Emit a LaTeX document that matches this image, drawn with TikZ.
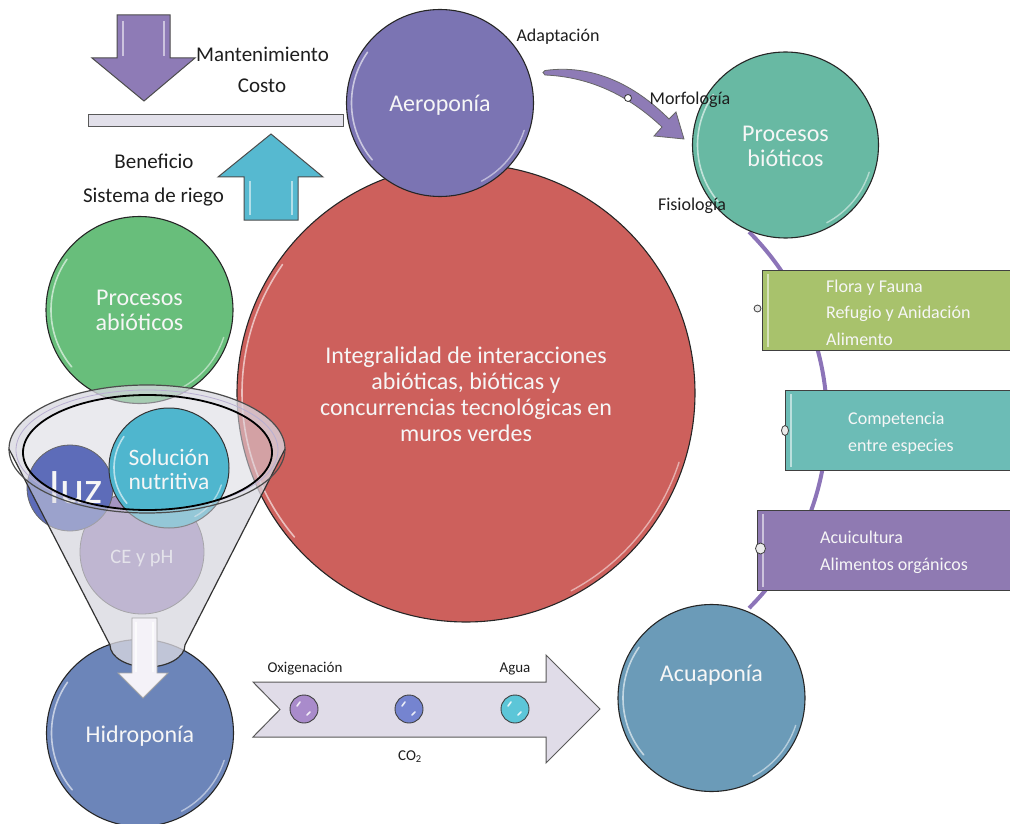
\documentclass[tikz,border=0pt]{standalone}
\usepackage{fontspec}
\setmainfont{Carlito}
\usetikzlibrary{shapes.geometric}

\definecolor{aeroC}{HTML}{7B74B3}
\definecolor{redC}{HTML}{CD605C}
\definecolor{bioC}{HTML}{68B9A3}
\definecolor{abioC}{HTML}{68BE7B}
\definecolor{hidroC}{HTML}{6C85B9}
\definecolor{acuaC}{HTML}{6B9BB8}
\definecolor{luzC}{HTML}{5D6CB9}
\definecolor{soluC}{HTML}{4FB6CE}
\definecolor{cephC}{HTML}{A594C2}
\definecolor{arrowPurple}{HTML}{8E7BB6}
\definecolor{arrowCyan}{HTML}{56B9D0}
\definecolor{barC}{HTML}{E2E0EA}
\definecolor{boxGreen}{HTML}{A8C26C}
\definecolor{boxTeal}{HTML}{6CBCB6}
\definecolor{boxPurple}{HTML}{8F7AB2}
\definecolor{lineViolet}{HTML}{8C74B8}
\definecolor{flowC}{HTML}{E0DCE8}
\definecolor{funnelC}{HTML}{D9D8E0}
\definecolor{rimC}{HTML}{B9AFD2}
\definecolor{inkC}{HTML}{1E1E1E}
\definecolor{softWhite}{HTML}{F6F6F6}
\definecolor{beadPurple}{HTML}{A98BCB}
\definecolor{beadBlue}{HTML}{7584D0}
\definecolor{beadCyan}{HTML}{5CC6D8}

\newcommand\fs[2]{\fontsize{#1}{#2}\selectfont}
% glossy rim highlights inside a disc: node name, radius
\newcommand\glossrim[2]{%
  \draw[white, opacity=.6, line width=1.6pt, line cap=round]
    (#1) ++(140:{#2-5}) arc[start angle=140, end angle=215, radius={#2-5}];
  \draw[white, opacity=.5, line width=1.4pt, line cap=round]
    (#1) ++(18:{#2-5}) arc[start angle=18, end angle=62, radius={#2-5}];}

\begin{document}
\begin{tikzpicture}[x=1pt, y=-1pt,
  disc/.style={circle, draw=black!85, line width=1.1pt, minimum size=#1, inner sep=0pt, outer sep=0pt},
  inlbl/.style={text=softWhite, anchor=base, inner sep=0pt, font=\fs{24}{26}},
  blk/.style={text=inkC, anchor=base, inner sep=0pt},
  panel/.style={rectangle, draw=black!75, line width=1pt, anchor=north west, inner sep=0pt, minimum width=253pt, minimum height=80pt},
  boxtxt/.style={text=softWhite, anchor=base west, inner sep=0pt, font=\fs{18}{22}},
  flowlbl/.style={text=inkC, anchor=base, inner sep=0pt, font=\fs{15}{18}},
  pin/.style={circle, draw=black!75, fill=white!92!black, line width=.8pt, inner sep=0pt, minimum size=7pt},
  bead/.style={circle, draw=black!75, line width=.9pt, fill=#1, minimum size=28pt, inner sep=0pt},
  bevel/.style={white, opacity=.55, line width=1.5pt},
]
\useasboundingbox (0,0) rectangle (1010,824);
\clip (0,0) rectangle (1010,824);

% ---------- balance: cost versus benefit ----------
\node[draw=black!65, line width=1pt, fill=barC, minimum width=255pt, minimum height=12pt, inner sep=0pt] (bar) at (215.5,121) {};
\path[fill=arrowPurple, draw=black!70, line width=1pt]
  (117,15) -- (170,15) -- (170,58) -- (195,58) -- (144,101) -- (92,58) -- (117,58) -- cycle;
\draw[bevel] (123,21) -- (123,56) (164,21) -- (164,56);
\path[fill=arrowCyan, draw=black!70, line width=1pt]
  (271,134) -- (323,177) -- (298,177) -- (298,220) -- (244,220) -- (244,177) -- (218,177) -- cycle;
\draw[bevel] (250,181) -- (250,215) (292,181) -- (292,215);
\node[blk, font=\fs{21}{24}] (mant) at (262.5,62) {Mantenimiento};
\node[blk, font=\fs{21}{24}] (costo) at (262,93) {Costo};
\node[blk, font=\fs{21}{24}] (benef) at (154,169) {Beneficio};
\node[blk, font=\fs{21}{24}] (riego) at (153.5,203) {Sistema de riego};

% ---------- central disc ----------
\node[disc=458pt, fill=redC] (core) at (466,393) {};
\glossrim{core}{229}
\node[inlbl] (core1) at (466,363) {Integralidad de interacciones};
\node[inlbl] (core2) at (466,389) {abióticas, bióticas y};
\node[inlbl] (core3) at (466,415) {concurrencias tecnológicas en};
\node[inlbl] (core4) at (466,441) {muros verdes};

% ---------- aeroponics ----------
\node[disc=187pt, fill=aeroC] (aero) at (440,103) {};
\glossrim{aero}{93.5}
\node[inlbl] (aeroT) at (440,112) {Aeroponía};

% ---------- abiotic processes ----------
\node[disc=187pt, fill=abioC] (abio) at (139.5,310) {};
\glossrim{abio}{93.5}
\node[inlbl] (abio1) at (139.5,305) {Procesos};
\node[inlbl] (abio2) at (139.5,330) {abióticos};

% ---------- curved arrow towards biotic processes ----------
\path[fill=arrowPurple, draw=black!60, line width=.8pt]
  (545,70.5) .. controls (592,64) and (634,84) .. (669,119)
  -- (676,112) -- (684,139) -- (654,136) -- (662,127)
  .. controls (628,95) and (590,77) .. (545,75) -- (543,72.5) -- cycle;
\node[circle, draw=black!80, fill=white, line width=.8pt, inner sep=0pt, minimum size=7pt] (knot) at (628,98) {};

% ---------- biotic chain ----------
\draw[lineViolet, line width=4pt] (561,420) ++(-45:266) arc[start angle=-45, end angle=45, radius=266];
\node[disc=186pt, fill=bioC] (bio) at (785.5,145) {};
\glossrim{bio}{93}
\node[inlbl] (bio1) at (785.5,142) {Procesos};
\node[inlbl] (bio2) at (785.5,167) {bióticos};

\node[disc=187pt, fill=acuaC] (acua) at (711.5,698) {};
\glossrim{acua}{93.5}
\node[inlbl] (acuaT) at (711.5,681) {Acuaponía};

\node[panel, fill=boxGreen] (flora) at (762,270) {};
\draw[bevel] ([xshift=6pt,yshift=-4pt]flora.north west) -- ([xshift=6pt,yshift=4pt]flora.south west);
\node[boxtxt] (flora1) at (826,292) {Flora y Fauna};
\node[boxtxt] (flora2) at (826,318) {Refugio y Anidación};
\node[boxtxt] (flora3) at (826,345) {Alimento};
\node[pin] (floraPin) at ([xshift=-4.5pt,yshift=2pt]flora.west) {};

\node[panel, fill=boxTeal] (comp) at (785,390) {};
\draw[bevel] ([xshift=6pt,yshift=-4pt]comp.north west) -- ([xshift=6pt,yshift=4pt]comp.south west);
\node[boxtxt] (comp1) at (848,424) {Competencia};
\node[boxtxt] (comp2) at (848,451) {entre especies};
\node[pin, ellipse, minimum width=7pt, minimum height=10pt] (compPin) at (comp.west) {};

\node[panel, fill=boxPurple] (acui) at (757,510) {};
\draw[bevel] ([xshift=6pt,yshift=-4pt]acui.north west) -- ([xshift=6pt,yshift=4pt]acui.south west);
\node[boxtxt] (acui1) at (820,543) {Acuicultura};
\node[boxtxt] (acui2) at (820,570) {Alimentos orgánicos};
\node[pin, ellipse, minimum width=10pt, minimum height=11pt] (acuiPin) at ([xshift=3.5pt,yshift=2pt]acui.west) {};

% ---------- hydroponics ----------
\node[disc=187pt, fill=hidroC] (hidro) at (140,733) {};
\glossrim{hidro}{93.5}
\node[inlbl] (hidroT) at (140,742) {Hidroponía};

% ---------- funnel with its contents ----------
% back wall of the funnel
\path[fill=funnelC, fill opacity=.55]
  (9,449) -- (110,645) arc[start angle=180, end angle=0, x radius=37.5, y radius=22]
  -- (285,449) arc[start angle=0, end angle=-180, x radius=138, y radius=64] -- cycle;
% discs poured into the funnel
\node[disc=124pt, fill=cephC, draw=black!55, line width=.8pt] (ceph) at (142,552) {};
\node[text=white!85!cephC, anchor=base, inner sep=0pt, font=\fs{20.5}{24}] (cephT) at (142,563) {CE y pH};
\node[disc=86pt, fill=luzC, draw=black!60, line width=.8pt] (luz) at (70,488) {};
\node[text=softWhite, anchor=base, inner sep=0pt, font=\fs{46}{50}] (luzT) at (76,503) {luz};
\node[disc=120pt, fill=soluC, draw=black!80, line width=1pt] (solu) at (169,468) {};
\glossrim{solu}{60}
\node[inlbl, font=\fs{23.5}{26}] (solu1) at (169,465) {Solución};
\node[inlbl, font=\fs{23.5}{26}] (solu2) at (169,489) {nutritiva};
% front wall, open at the mouth
\path[fill=funnelC, fill opacity=.5, even odd rule]
  (9,449) -- (110,645) arc[start angle=180, end angle=0, x radius=37.5, y radius=22]
  -- (285,449) arc[start angle=0, end angle=-180, x radius=138, y radius=64] -- cycle
  (147.5,452.5) ellipse[x radius=124.5, y radius=57.5];
% funnel outlines
\draw[black!80, line width=1.2pt]
  (9,449) -- (110,645) arc[start angle=180, end angle=0, x radius=37.5, y radius=22] -- (285,449);
\draw[black!70, line width=1.2pt] (147,449) ellipse[x radius=138, y radius=64];
\draw[rimC, line width=.8pt] (147,450) ellipse[x radius=131, y radius=60];
\draw[black, line width=1.8pt] (147.5,452.5) ellipse[x radius=124.5, y radius=57.5];
% outflow arrow
\path[fill=white!88!cephC, draw=black!35, line width=.8pt]
  (132,618) -- (157,618) -- (157,673) -- (168,673) -- (143,698) -- (118,673) -- (132,673) -- cycle;
\draw[white, opacity=.7, line width=1.2pt] (136,622) -- (136,672) (153,622) -- (153,672);

% ---------- flow of resources ----------
\path[fill=flowC, draw=black!65, line width=1pt]
  (253,682) -- (546,682) -- (546,655) -- (600,709) -- (546,763) -- (546,737) -- (253,737) -- (280,709.5) -- cycle;
\node[bead=beadPurple] (oxiB) at (304,709) {};
\node[bead=beadBlue] (co2B) at (409,709) {};
\node[bead=beadCyan] (aguaB) at (515,709) {};
% glints on the beads
\foreach \b in {oxiB,co2B,aguaB}{
  \draw[white, opacity=.85, line width=1.6pt, line cap=round] ([shift={(-7pt,3pt)}]\b.center) -- ([shift={(-4pt,7pt)}]\b.center);
  \draw[white, opacity=.85, line width=1.6pt, line cap=round] ([shift={(3pt,-6pt)}]\b.center) -- ([shift={(6pt,-3pt)}]\b.center);
}
\node[flowlbl] (oxi) at (305,672) {Oxigenación};
\node[flowlbl] (agua) at (515,672) {Agua};
\node[flowlbl] (co2) at (410,760) {CO\textsubscript{2}};

% ---------- labels around the curved arrow ----------
\node[blk, font=\fs{18}{22}] (adapt) at (558,42) {Adaptación};
\node[blk, font=\fs{18}{22}] (morfo) at (690,105) {Morfología};
\node[blk, font=\fs{18}{22}] (fisio) at (692,211) {Fisiología};
\end{tikzpicture}
\end{document}
